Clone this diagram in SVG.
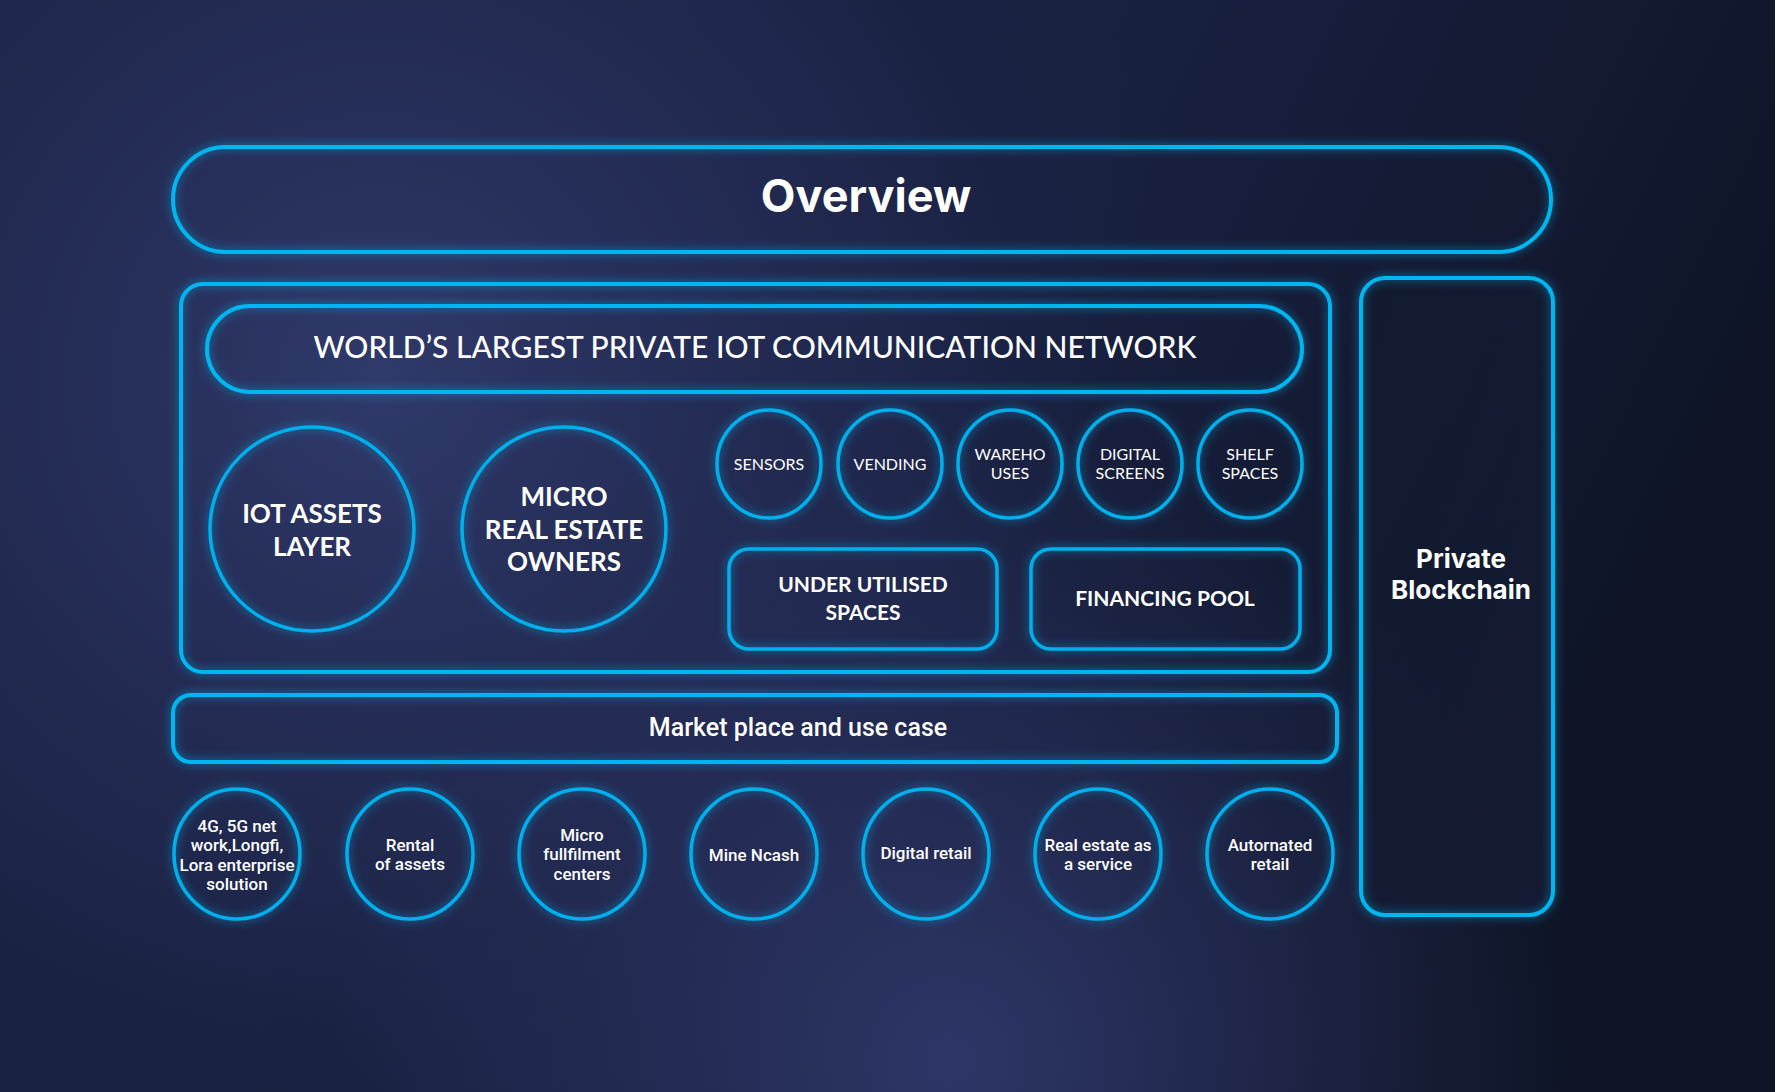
<svg xmlns="http://www.w3.org/2000/svg" width="1775" height="1092" viewBox="0 0 1775 1092">
<defs>
<radialGradient id="bg1" cx="380" cy="380" r="820" gradientUnits="userSpaceOnUse">
<stop offset="0" stop-color="#303a6b"/><stop offset="0.6" stop-color="#242c55" stop-opacity="0.6"/><stop offset="1" stop-color="#1a2140" stop-opacity="0"/>
</radialGradient>
<radialGradient id="bg2" cx="950" cy="1060" r="620" gradientUnits="userSpaceOnUse">
<stop offset="0" stop-color="#2e3668"/><stop offset="1" stop-color="#2a3260" stop-opacity="0"/>
</radialGradient>
<linearGradient id="bgBase" x1="0" y1="0" x2="1" y2="0.3">
<stop offset="0" stop-color="#1a2244"/><stop offset="0.6" stop-color="#182040"/><stop offset="1" stop-color="#0f1527"/>
</linearGradient>
<linearGradient id="darkFill" x1="0" y1="0" x2="1" y2="1">
<stop offset="0" stop-color="#101a2d"/><stop offset="1" stop-color="#141b35"/>
</linearGradient>
<filter id="glow" x="-20%" y="-20%" width="140%" height="140%">
<feGaussianBlur in="SourceAlpha" stdDeviation="5" result="b"/>
<feFlood flood-color="#0aa8e6" flood-opacity="0.75"/>
<feComposite in2="b" operator="in" result="g"/>
<feMerge><feMergeNode in="g"/><feMergeNode in="SourceGraphic"/></feMerge>
</filter>
<style>
.box{fill:none;stroke:#06b6f0;stroke-width:4;filter:url(#glow)}
.c{fill:none;stroke:#06b0ec;stroke-width:3.5;filter:url(#glow)}
.t{fill:#ffffff;text-anchor:middle}
.ral{font-family:Lato,"Noto Sans",sans-serif}
.ral5{font-family:Lato,"Noto Sans",sans-serif;font-weight:700}
.rob{font-family:Roboto,"Liberation Sans",sans-serif;font-weight:500}
.int{font-family:Inter,"Liberation Sans",sans-serif;font-weight:700}
</style>
</defs>
<rect width="1775" height="1092" fill="url(#bgBase)"/>
<rect width="1775" height="1092" fill="url(#bg1)"/>
<rect width="1775" height="1092" fill="url(#bg2)"/>

<g id="overview">
<rect class="box" x="173" y="147" width="1378" height="105" rx="52.5"/>
<text class="t int" x="866" y="212" font-size="45">Overview</text>
</g>

<g id="network-container">
<rect class="box" x="181" y="284" width="1149" height="388" rx="22"/>
</g>

<g id="network">
<rect class="box" x="207" y="306" width="1095" height="86" rx="43"/>
<text class="t ral" x="755" y="358" font-size="30" font-weight="500">WORLD’S LARGEST PRIVATE IOT COMMUNICATION NETWORK</text>
</g>

<g id="iot-assets">
<circle class="c" cx="312" cy="529" r="102"/>
<text class="t ral5" font-size="26"><tspan x="312" y="523">IOT ASSETS</tspan><tspan x="312" y="556">LAYER</tspan></text>
</g>

<g id="micro-real-estate">
<circle class="c" cx="564" cy="529" r="102"/>
<text class="t ral5" font-size="26"><tspan x="564" y="506">MICRO</tspan><tspan x="564" y="539">REAL ESTATE</tspan><tspan x="564" y="571">OWNERS</tspan></text>
</g>

<g id="sensors">
<ellipse class="c" cx="769" cy="464" rx="52" ry="54"/>
<text class="t ral" x="769" y="470" font-size="16">SENSORS</text>
</g>
<g id="vending">
<ellipse class="c" cx="890" cy="464" rx="52" ry="54"/>
<text class="t ral" x="890" y="470" font-size="16">VENDING</text>
</g>
<g id="warehouses">
<ellipse class="c" cx="1010" cy="464" rx="52" ry="54"/>
<text class="t ral" font-size="16"><tspan x="1010" y="460">WAREHO</tspan><tspan x="1010" y="479">USES</tspan></text>
</g>
<g id="digital-screens">
<ellipse class="c" cx="1130" cy="464" rx="52" ry="54"/>
<text class="t ral" font-size="16"><tspan x="1130" y="460">DIGITAL</tspan><tspan x="1130" y="479">SCREENS</tspan></text>
</g>
<g id="shelf-spaces">
<ellipse class="c" cx="1250" cy="464" rx="52" ry="54"/>
<text class="t ral" font-size="16"><tspan x="1250" y="460">SHELF</tspan><tspan x="1250" y="479">SPACES</tspan></text>
</g>

<g id="under-utilised">
<rect class="c" x="729" y="549" width="268" height="100" rx="20"/>
<text class="t ral5" font-size="21"><tspan x="863" y="592">UNDER UTILISED</tspan><tspan x="863" y="620">SPACES</tspan></text>
</g>
<g id="financing-pool">
<rect class="c" x="1031" y="549" width="269" height="100" rx="20"/>
<text class="t ral5" x="1165" y="606" font-size="21">FINANCING POOL</text>
</g>

<g id="marketplace">
<rect class="box" x="173" y="695" width="1164" height="67" rx="18"/>
<text class="t rob" x="798" y="736" font-size="25">Market place and use case</text>
</g>

<g id="private-blockchain">
<rect x="1361" y="278" width="192" height="637" rx="24" fill="url(#darkFill)" opacity="0.8"/>
<rect class="box" x="1361" y="278" width="192" height="637" rx="24"/>
<text class="t int" font-size="26"><tspan x="1461" y="568">Private</tspan><tspan x="1461" y="599">Blockchain</tspan></text>
</g>

<g id="uc-network">
<ellipse class="c" cx="237" cy="854" rx="63" ry="65" stroke-width="4"/>
<text class="t rob" font-size="17"><tspan x="237" y="832">4G, 5G net</tspan><tspan x="237" y="851">work,Longfi,</tspan><tspan x="237" y="871">Lora enterprise</tspan><tspan x="237" y="890">solution</tspan></text>
</g>
<g id="uc-rental">
<ellipse class="c" cx="410" cy="854" rx="63" ry="65" stroke-width="4"/>
<text class="t rob" font-size="17"><tspan x="410" y="851">Rental</tspan><tspan x="410" y="870">of assets</tspan></text>
</g>
<g id="uc-micro-fulfilment">
<ellipse class="c" cx="582" cy="854" rx="63" ry="65" stroke-width="4"/>
<text class="t rob" font-size="17"><tspan x="582" y="841">Micro</tspan><tspan x="582" y="860">fullfilment</tspan><tspan x="582" y="880">centers</tspan></text>
</g>
<g id="uc-mine-ncash">
<ellipse class="c" cx="754" cy="854" rx="63" ry="65" stroke-width="4"/>
<text class="t rob" x="754" y="861" font-size="17">Mine Ncash</text>
</g>
<g id="uc-digital-retail">
<ellipse class="c" cx="926" cy="854" rx="63" ry="65" stroke-width="4"/>
<text class="t rob" x="926" y="859" font-size="17">Digital retail</text>
</g>
<g id="uc-real-estate">
<ellipse class="c" cx="1098" cy="854" rx="63" ry="65" stroke-width="4"/>
<text class="t rob" font-size="17"><tspan x="1098" y="851">Real estate as</tspan><tspan x="1098" y="870">a service</tspan></text>
</g>
<g id="uc-automated-retail">
<ellipse class="c" cx="1270" cy="854" rx="63" ry="65" stroke-width="4"/>
<text class="t rob" font-size="17"><tspan x="1270" y="851">Autornated</tspan><tspan x="1270" y="870">retail</tspan></text>
</g>

<g id="connectors"/>
</svg>
